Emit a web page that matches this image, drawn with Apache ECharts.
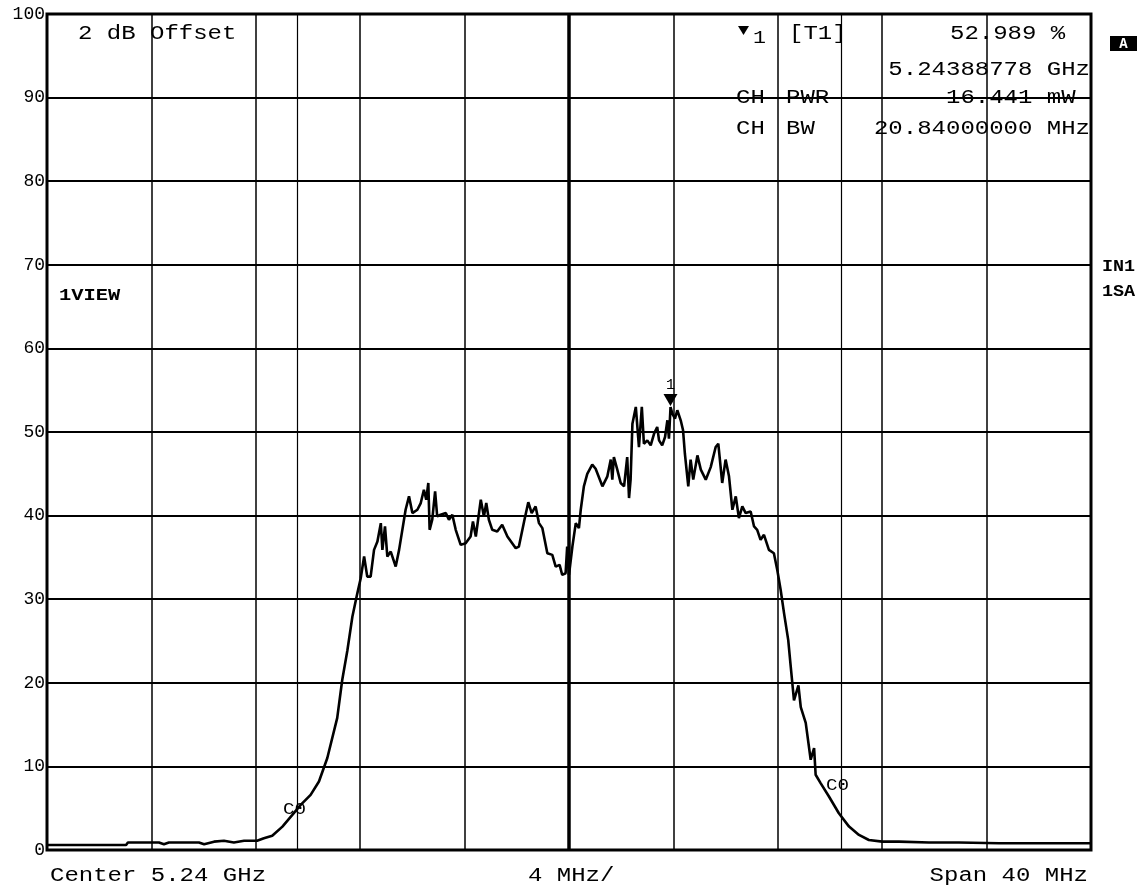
<!DOCTYPE html>
<html>
<head>
<meta charset="utf-8">
<title>Channel power 5.24 GHz</title>
<script src="https://cdn.jsdelivr.net/npm/echarts@6/dist/echarts.min.js"></script>
<style>
  html, body { margin: 0; padding: 0; background: #fff; }
  #chart { width: 1144px; height: 889px; }
</style>
</head>
<body>
<div id="chart"></div>
<script>
// Trace: frequency offset from centre (MHz) and level (%)
const traceFreq = [
  -20.00, -19.50, -18.39, -16.97, -16.90, -15.71, -15.52, -15.33, -14.18, -13.98,
  -13.60, -13.22, -12.84, -12.45, -11.95, -11.69, -11.37, -10.98, -10.60, -10.28,
  -9.90, -9.58, -9.26, -8.88, -8.69, -8.49, -8.30, -8.11, -7.98, -7.85,
  -7.73, -7.60, -7.47, -7.34, -7.21, -7.15, -7.05, -6.96, -6.83, -6.64,
  -6.51, -6.26, -6.13, -6.00, -5.81, -5.68, -5.56, -5.47, -5.39, -5.34,
  -5.24, -5.13, -5.05, -4.92, -4.72, -4.60, -4.47, -4.34, -4.15, -3.96,
  -3.77, -3.68, -3.57, -3.38, -3.26, -3.17, -3.07, -2.94, -2.75, -2.56,
  -2.36, -2.04, -1.92, -1.72, -1.56, -1.43, -1.28, -1.15, -1.02, -0.83,
  -0.64, -0.51, -0.36, -0.26, -0.13, -0.07, 0.00, 0.13, 0.26, 0.38,
  0.45, 0.57, 0.70, 0.89, 1.02, 1.28, 1.47, 1.60, 1.66, 1.72,
  1.85, 1.98, 2.11, 2.23, 2.30, 2.36, 2.43, 2.56, 2.68, 2.79,
  2.87, 3.00, 3.13, 3.26, 3.38, 3.45, 3.57, 3.68, 3.77, 3.83,
  3.89, 3.96, 4.06, 4.15, 4.28, 4.37, 4.44, 4.57, 4.66, 4.76,
  4.92, 5.05, 5.24, 5.43, 5.62, 5.72, 5.87, 6.00, 6.13, 6.26,
  6.39, 6.51, 6.64, 6.77, 6.96, 7.09, 7.21, 7.34, 7.47, 7.66,
  7.85, 7.98, 8.11, 8.24, 8.40, 8.49, 8.62, 8.79, 8.88, 9.07,
  9.26, 9.39, 9.45, 9.64, 9.96, 10.34, 10.73, 11.11, 11.49, 12.00,
  12.64, 13.79, 14.94, 16.48, 20.00
];
const traceLevel = [
  0.6, 0.6, 0.6, 0.6, 0.9, 0.9, 0.7, 0.9, 0.9, 0.7,
  1.0, 1.1, 0.9, 1.1, 1.1, 1.4, 1.7, 2.8, 4.2, 5.4,
  6.6, 8.2, 11.0, 15.8, 20.3, 23.9, 27.9, 30.7, 32.5, 35.1,
  32.7, 32.7, 35.9, 36.9, 39.1, 35.9, 38.7, 35.1, 35.7, 33.9,
  35.9, 40.7, 42.3, 40.3, 40.7, 41.5, 43.1, 41.9, 43.9, 38.3,
  39.5, 42.9, 39.9, 40.1, 40.3, 39.5, 40.1, 38.3, 36.5, 36.7,
  37.5, 39.3, 37.5, 41.9, 39.9, 41.5, 39.5, 38.3, 38.1, 38.9,
  37.5, 36.1, 36.3, 39.3, 41.6, 40.3, 41.1, 39.1, 38.5, 35.5,
  35.3, 33.9, 34.1, 32.9, 33.1, 36.3, 32.9, 36.3, 39.1, 38.5,
  40.7, 43.5, 45.0, 46.1, 45.6, 43.5, 44.7, 46.7, 44.3, 47.0,
  45.5, 43.9, 43.5, 47.0, 42.1, 44.3, 51.0, 53.0, 48.2, 53.0,
  48.6, 49.0, 48.4, 49.8, 50.6, 49.0, 48.4, 49.4, 51.4, 49.2,
  52.989, 52.2, 51.6, 52.6, 51.4, 50.2, 47.4, 43.5, 46.7, 44.3,
  47.2, 45.5, 44.3, 45.8, 48.2, 48.6, 43.9, 46.7, 44.7, 40.7,
  42.3, 39.7, 41.1, 40.3, 40.5, 38.7, 38.3, 37.1, 37.7, 35.9,
  35.5, 33.5, 31.1, 28.3, 25.1, 22.1, 17.9, 19.7, 17.1, 15.2,
  10.8, 12.2, 9.0, 8.0, 6.4, 4.4, 2.8, 1.8, 1.2, 1.0,
  1.0, 0.9, 0.9, 0.8, 0.8
];

// Marker 1 and channel settings
const markerFreq = 3.88778;      // MHz from centre (5.24388778 GHz)
const markerLevel = 52.989;
const channelBW = 20.84;         // MHz
const spanMHz = 40;
const divMHz = 4;
const levelTicks = [0, 10, 20, 30, 40, 50, 60, 70, 80, 90, 100];

// Readout text
const headerLeft = '2 dB Offset';
const markerRows = [
  ['[T1]', '52.989 %', '5.24388778 GHz'],
  ['PWR', '16.441 mW'],
  ['BW', '20.84000000 MHz']
];
const footerTexts = ['Center 5.24 GHz', '4 MHz/', 'Span 40 MHz'];

const mono = '"Liberation Mono", "Courier New", monospace';
const traceData = traceFreq.map((f, i) => [f, traceLevel[i]]);

const chart = echarts.init(document.getElementById('chart'), null, { renderer: 'canvas' });

// Analyzer-style text: a monospace face stretched horizontally
function txt(x, y, text, style, sx) {
  return {
    type: 'text', x: x, y: y, scaleX: sx || 1.2, silent: true, z: 20,
    style: Object.assign({
      text: text, fill: '#000', font: '20px ' + mono,
      textAlign: 'left', textVerticalAlign: 'middle'
    }, style || {})
  };
}

const option = {
  animation: false,
  backgroundColor: '#fff',
  grid: {
    left: 47, right: 53, top: 14, bottom: 39,
    show: true, borderColor: '#000', borderWidth: 3, backgroundColor: 'transparent'
  },
  xAxis: {
    type: 'value', min: -spanMHz / 2, max: spanMHz / 2, interval: divMHz,
    axisLine: { show: false }, axisTick: { show: false }, axisLabel: { show: false },
    splitLine: { show: true, lineStyle: { color: '#000', width: 1.5 } }
  },
  yAxis: {
    type: 'value', min: levelTicks[0], max: levelTicks[levelTicks.length - 1], interval: 10,
    axisLine: { show: false }, axisTick: { show: false },
    axisLabel: { color: '#000', fontFamily: mono, fontSize: 18, margin: 2 },
    splitLine: { show: true, lineStyle: { color: '#000', width: 1.8 } }
  },
  series: [{
    type: 'line',
    data: traceData,
    showSymbol: false,
    smooth: false,
    lineStyle: { color: '#000', width: 2.6 },
    z: 5,
    markLine: {
      silent: true, symbol: 'none',
      label: { show: false },
      data: [
        { xAxis: 0, lineStyle: { color: '#000', width: 3.5, type: 'solid' } },
        { xAxis: -channelBW / 2, lineStyle: { color: '#000', width: 1.2, type: 'solid' } },
        { xAxis: channelBW / 2, lineStyle: { color: '#000', width: 1.2, type: 'solid' } }
      ]
    },
    markPoint: {
      silent: true,
      data: [{
        coord: [markerFreq, markerLevel],
        symbol: 'triangle', symbolRotate: 180, symbolSize: [14, 12], symbolOffset: [0, -7],
        itemStyle: { color: '#000' },
        label: {
          show: true, position: 'top', distance: 1, formatter: '1',
          color: '#000', fontFamily: mono, fontSize: 15
        }
      }]
    }
  }],
  graphic: [
    txt(78, 34, headerLeft),
    // marker readout block
    { type: 'polygon', silent: true, z: 20, shape: { points: [[738, 26], [749, 26], [743.5, 35]] }, style: { fill: '#000' } },
    txt(753, 38, '1', { font: '18px ' + mono }),
    txt(789, 34, markerRows[0][0]),
    txt(950, 34, markerRows[0][1]),
    txt(1090, 70, markerRows[0][2], { textAlign: 'right' }),
    txt(736, 98, 'CH'),
    txt(786, 98, markerRows[1][0]),
    txt(946, 98, markerRows[1][1]),
    txt(736, 129, 'CH'),
    txt(786, 129, markerRows[2][0]),
    txt(1090, 129, markerRows[2][1], { textAlign: 'right' }),
    // screen annotations
    { type: 'rect', silent: true, z: 20, shape: { x: 1110, y: 36, width: 27, height: 15 }, style: { fill: '#000' } },
    txt(1123.5, 44, 'A', { fill: '#fff', font: 'bold 14px ' + mono, textAlign: 'center' }, 1),
    txt(59, 296, '1VIEW', { font: 'bold 17px ' + mono }),
    txt(1102, 267, 'IN1', { font: 'bold 16px ' + mono }, 1.15),
    txt(1102, 292, '1SA', { font: 'bold 16px ' + mono }, 1.15),
    txt(283, 810, 'C0', { font: '16px ' + mono }),
    txt(826, 786, 'C0', { font: '16px ' + mono }),
    // footer
    txt(50, 876, footerTexts[0]),
    txt(528, 876, footerTexts[1]),
    txt(1088, 876, footerTexts[2], { textAlign: 'right' })
  ]
};

chart.setOption(option);
</script>
</body>
</html>
